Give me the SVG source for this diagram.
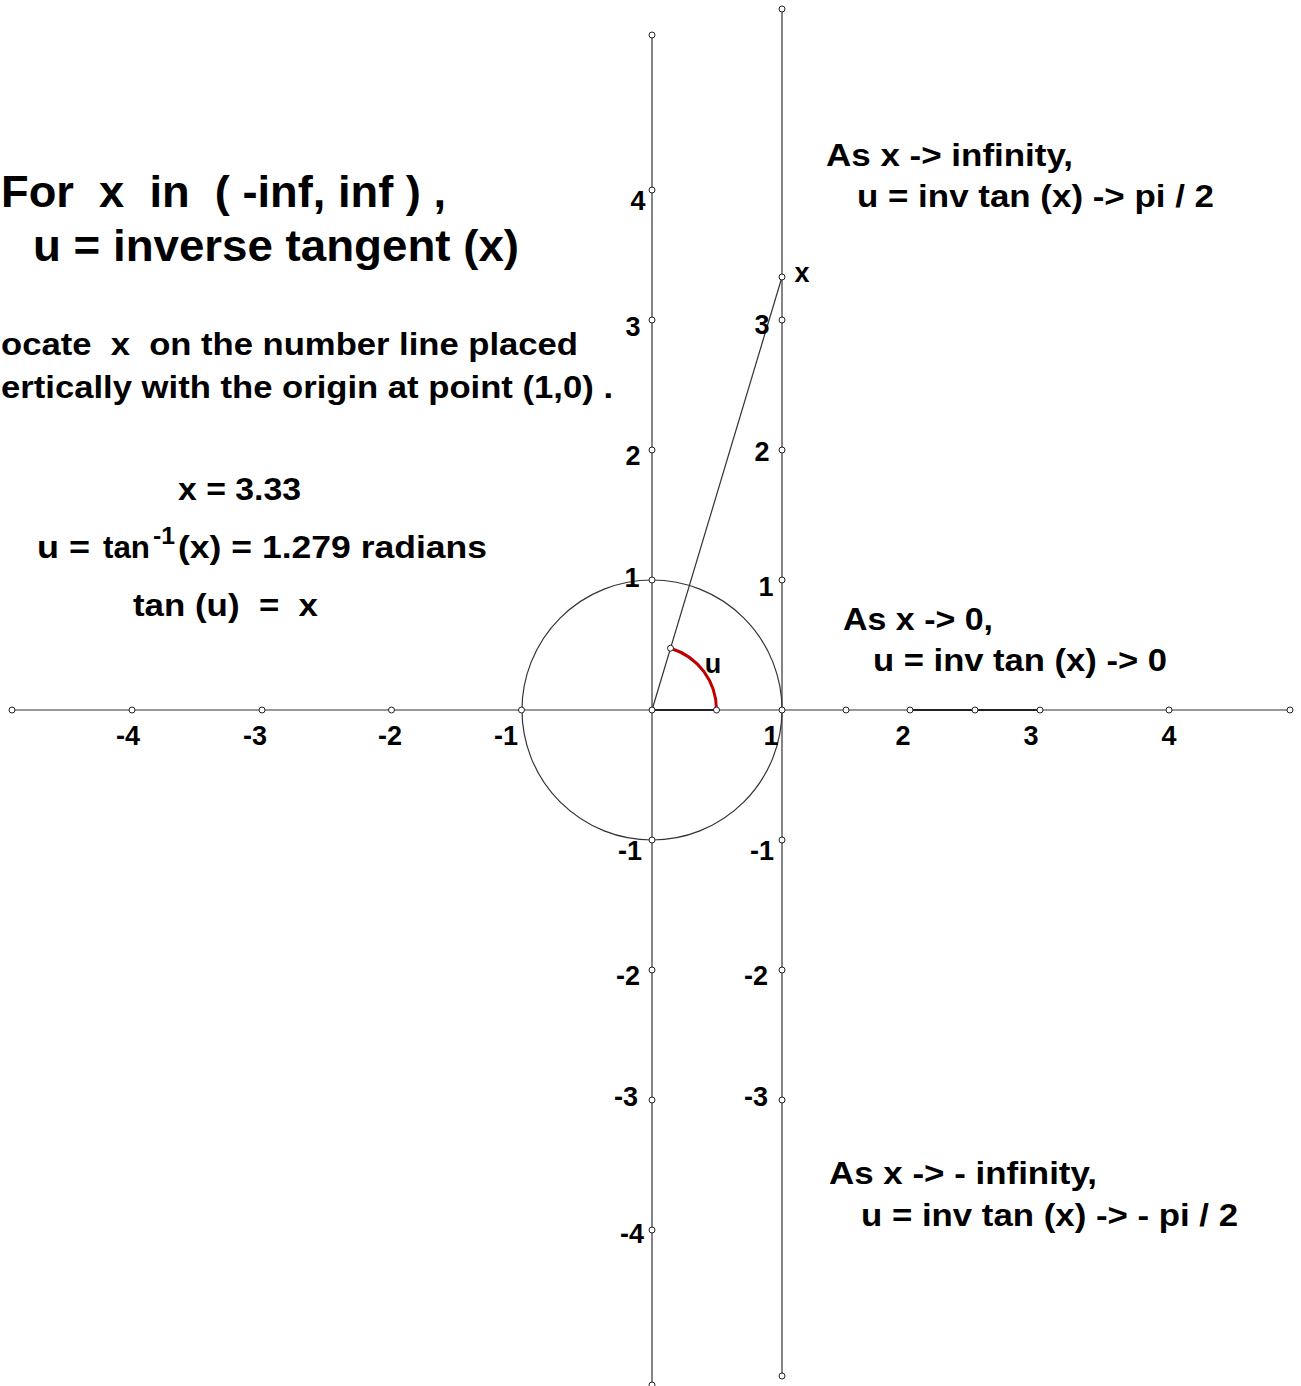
<svg xmlns="http://www.w3.org/2000/svg" width="1301" height="1386" viewBox="0 0 1301 1386" xml:space="preserve">
<style>
.ax{stroke:#333;stroke-width:1.2;fill:none}
.thk{stroke:#222;stroke-width:2;fill:none}
.pt{fill:#fff;stroke:#222;stroke-width:1}
text{font-family:"Liberation Sans",Arial,sans-serif;font-weight:bold;fill:#000;white-space:pre}
.lb{font-size:27px;text-anchor:middle}
.t1{font-size:44px}
.t2{font-size:32px}
.t3{font-size:32px}
</style>
<rect width="1301" height="1386" fill="#fff"/>
<g id="axes">
<line class="ax" x1="12" y1="710" x2="1290" y2="710"/>
<line class="thk" x1="652" y1="710" x2="716.5" y2="710"/>
<line class="thk" x1="910" y1="710" x2="1040" y2="710"/>
<line class="ax" x1="652" y1="35" x2="652" y2="1385"/>
<line class="ax" x1="782" y1="9" x2="782" y2="1376"/>
<circle class="ax" cx="652" cy="710" r="130"/>
<line class="ax" x1="652" y1="710" x2="782" y2="277"/>
<path d="M716.5,710 A64.5,64.5 0 0 0 670.5,648.2" fill="none" stroke="#c00000" stroke-width="3"/>
</g>
<g id="points">
<circle class="pt" cx="12" cy="710" r="3"/>
<circle class="pt" cx="132" cy="710" r="3"/>
<circle class="pt" cx="262" cy="710" r="3"/>
<circle class="pt" cx="391.5" cy="710" r="3"/>
<circle class="pt" cx="521.5" cy="710" r="3"/>
<circle class="pt" cx="652" cy="710" r="3"/>
<circle class="pt" cx="716.5" cy="710" r="3"/>
<circle class="pt" cx="782" cy="710" r="3"/>
<circle class="pt" cx="846" cy="710" r="3"/>
<circle class="pt" cx="910" cy="710" r="3"/>
<circle class="pt" cx="975" cy="710" r="3"/>
<circle class="pt" cx="1040" cy="710" r="3"/>
<circle class="pt" cx="1169" cy="710" r="3"/>
<circle class="pt" cx="1290" cy="710" r="3"/>
<circle class="pt" cx="652" cy="35" r="3"/>
<circle class="pt" cx="652" cy="190" r="3"/>
<circle class="pt" cx="652" cy="320" r="3"/>
<circle class="pt" cx="652" cy="450" r="3"/>
<circle class="pt" cx="652" cy="580" r="3"/>
<circle class="pt" cx="652" cy="840" r="3"/>
<circle class="pt" cx="652" cy="970" r="3"/>
<circle class="pt" cx="652" cy="1100" r="3"/>
<circle class="pt" cx="652" cy="1230" r="3"/>
<circle class="pt" cx="652" cy="1385" r="3"/>
<circle class="pt" cx="782" cy="9" r="3"/>
<circle class="pt" cx="782" cy="277" r="3"/>
<circle class="pt" cx="782" cy="320" r="3"/>
<circle class="pt" cx="782" cy="450" r="3"/>
<circle class="pt" cx="782" cy="580" r="3"/>
<circle class="pt" cx="782" cy="840" r="3"/>
<circle class="pt" cx="782" cy="970" r="3"/>
<circle class="pt" cx="782" cy="1100" r="3"/>
<circle class="pt" cx="782" cy="1376" r="3"/>
<circle class="pt" cx="670.5" cy="648.2" r="3"/>
</g>
<g id="axis-labels">
<text class="lb" x="128" y="745">-4</text>
<text class="lb" x="255" y="745">-3</text>
<text class="lb" x="390" y="745">-2</text>
<text class="lb" x="506" y="745">-1</text>
<text class="lb" x="771" y="745">1</text>
<text class="lb" x="903" y="745">2</text>
<text class="lb" x="1031" y="745">3</text>
<text class="lb" x="1169" y="745">4</text>
<text class="lb" x="638" y="210">4</text>
<text class="lb" x="633" y="336">3</text>
<text class="lb" x="633" y="465">2</text>
<text class="lb" x="632" y="587">1</text>
<text class="lb" x="630" y="860">-1</text>
<text class="lb" x="628" y="985">-2</text>
<text class="lb" x="626" y="1106">-3</text>
<text class="lb" x="632" y="1243">-4</text>
<text class="lb" x="762" y="334">3</text>
<text class="lb" x="762" y="461">2</text>
<text class="lb" x="766" y="596">1</text>
<text class="lb" x="762" y="860">-1</text>
<text class="lb" x="756" y="985">-2</text>
<text class="lb" x="756" y="1106">-3</text>
<text class="lb" x="802" y="282">x</text>
<text class="lb" x="713" y="673">u</text>
</g>
<g id="title">
<text class="t1" x="1" y="207" textLength="445" lengthAdjust="spacingAndGlyphs">For  x  in  ( -inf, inf ) ,</text>
<text class="t1" x="33" y="261" textLength="486" lengthAdjust="spacingAndGlyphs">u = inverse tangent (x)</text>
</g>
<g id="instructions">
<text class="t2" x="1" y="355" textLength="577" lengthAdjust="spacingAndGlyphs">ocate  x  on the number line placed</text>
<text class="t2" x="1" y="398" textLength="612" lengthAdjust="spacingAndGlyphs">ertically with the origin at point (1,0) .</text>
</g>
<g id="values">
<text class="t3" x="178" y="500" textLength="123" lengthAdjust="spacingAndGlyphs">x = 3.33</text>
<text class="t3" y="558"><tspan x="37" textLength="53" lengthAdjust="spacingAndGlyphs">u =</tspan><tspan x="103" textLength="47" lengthAdjust="spacingAndGlyphs">tan</tspan><tspan x="153" y="544" font-size="23" textLength="22" lengthAdjust="spacingAndGlyphs">-1</tspan><tspan x="178" y="558" textLength="309" lengthAdjust="spacingAndGlyphs">(x) = 1.279 radians</tspan></text>
<text class="t3" x="133" y="616" textLength="185" lengthAdjust="spacingAndGlyphs">tan (u)  =  x</text>
</g>
<g id="notes">
<text class="t3" x="826" y="166" textLength="247" lengthAdjust="spacingAndGlyphs">As x -&gt; infinity,</text>
<text class="t3" x="857" y="207" textLength="357" lengthAdjust="spacingAndGlyphs">u = inv tan (x) -&gt; pi / 2</text>
<text class="t3" x="843" y="630" textLength="150" lengthAdjust="spacingAndGlyphs">As x -&gt; 0,</text>
<text class="t3" x="873" y="671" textLength="294" lengthAdjust="spacingAndGlyphs">u = inv tan (x) -&gt; 0</text>
<text class="t3" x="829" y="1184" textLength="268" lengthAdjust="spacingAndGlyphs">As x -&gt; - infinity,</text>
<text class="t3" x="861" y="1226" textLength="377" lengthAdjust="spacingAndGlyphs">u = inv tan (x) -&gt; - pi / 2</text>
</g>
</svg>
